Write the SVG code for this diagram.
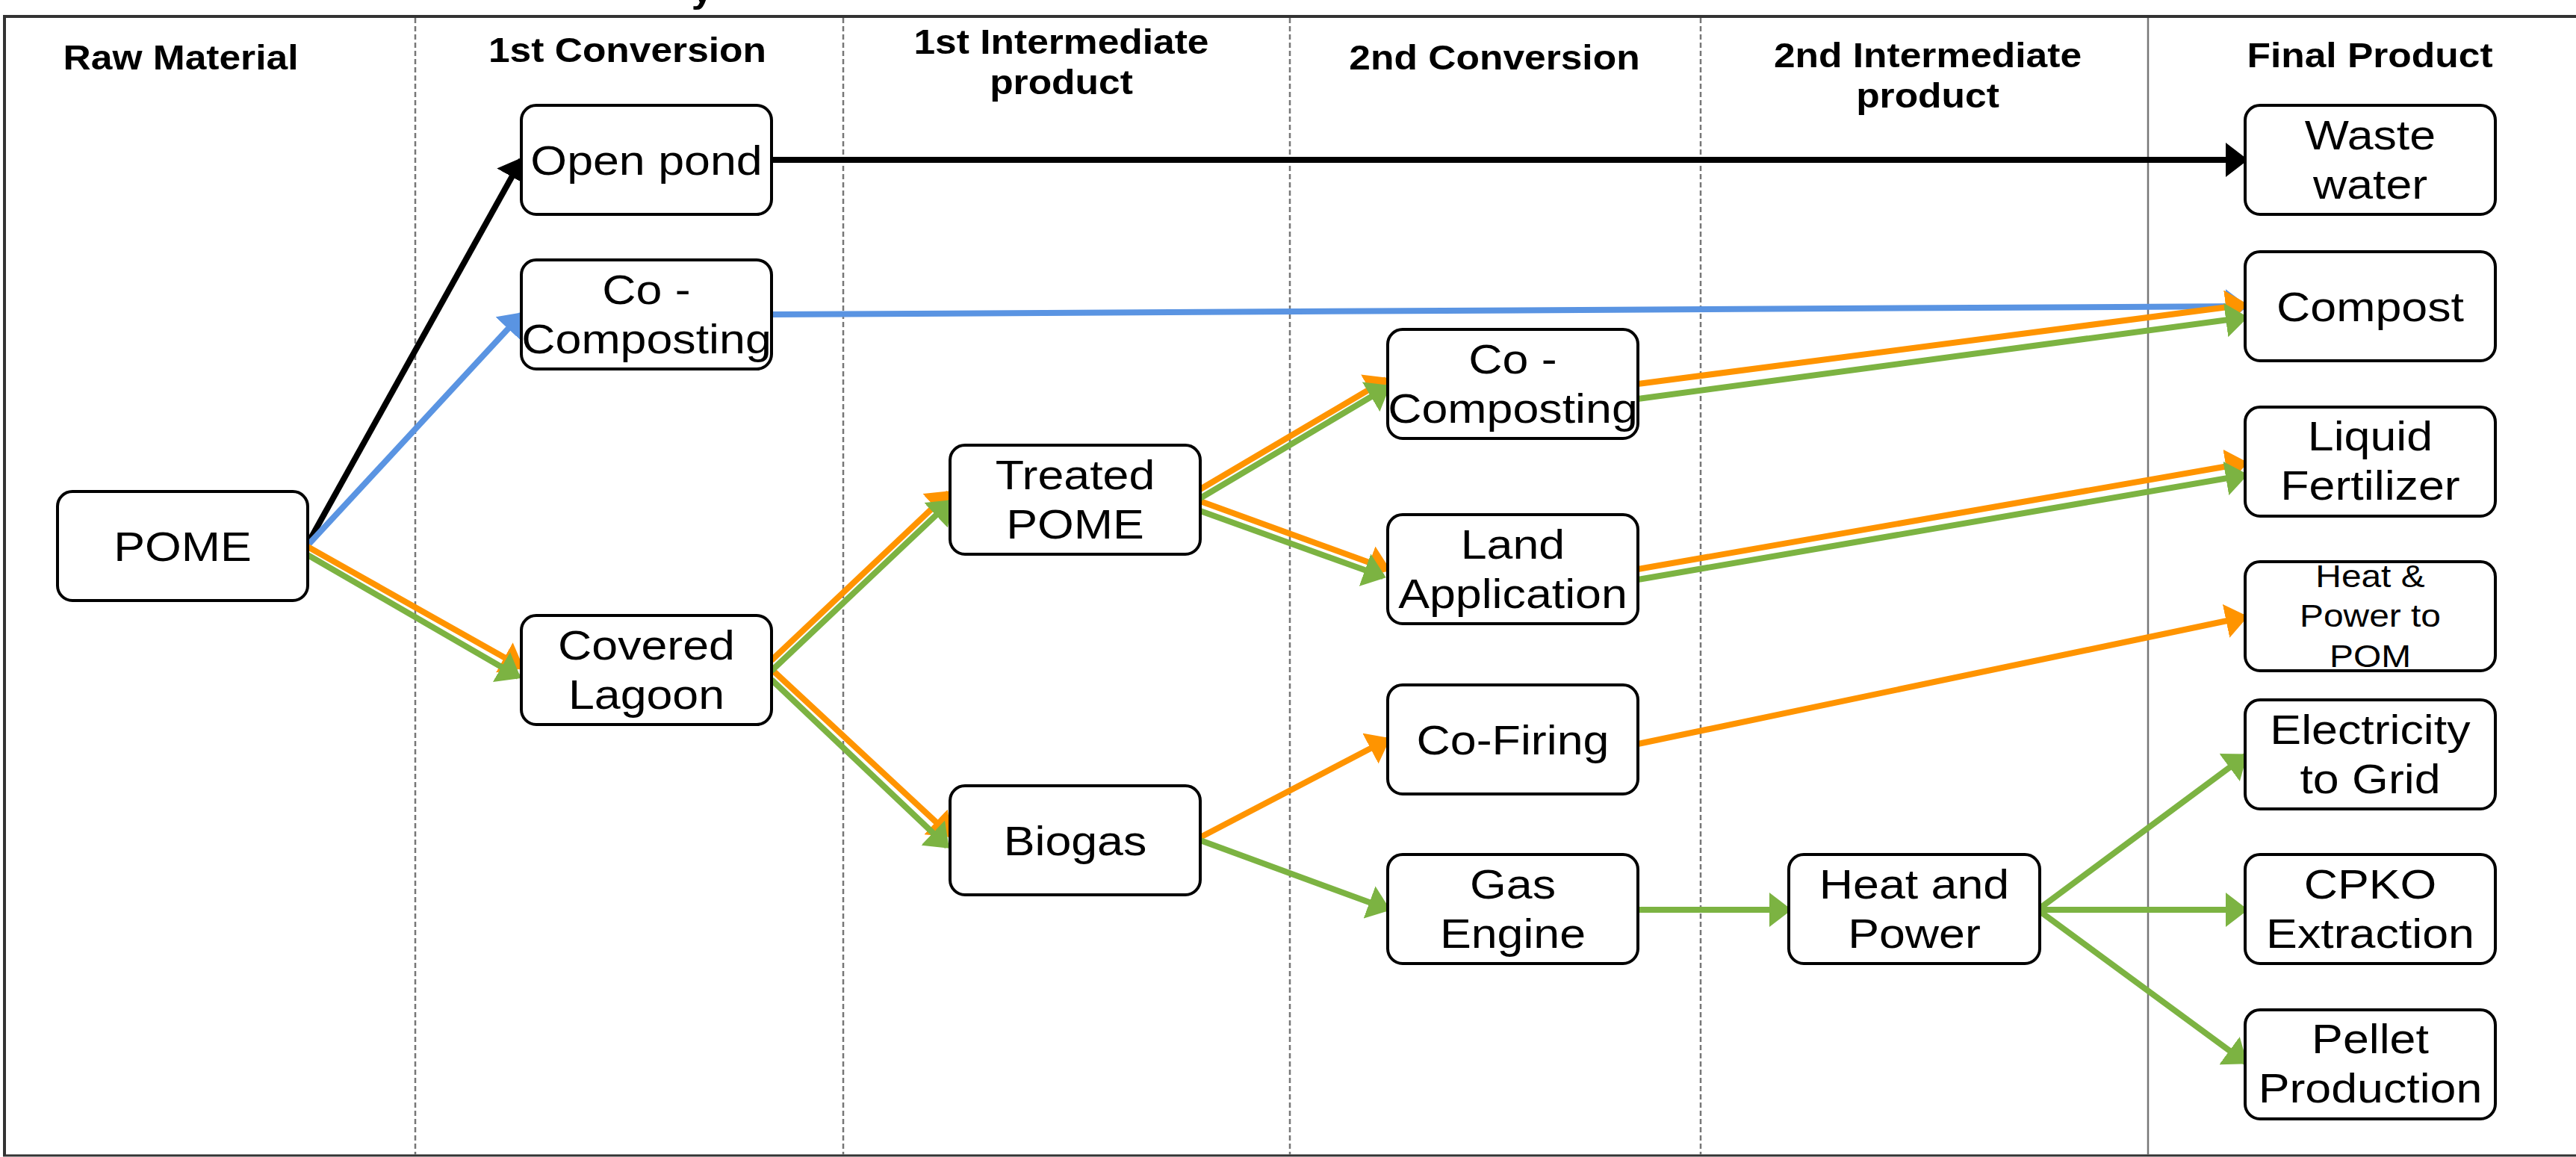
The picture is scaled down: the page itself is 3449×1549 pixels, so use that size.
<svg xmlns="http://www.w3.org/2000/svg" width="3449" height="1549" viewBox="0 0 3449 1549">
<style>
.bg{fill:#ffffff}
.node rect{fill:#ffffff;stroke:#000000;stroke-width:4}
.t{font-family:"Liberation Sans",Arial,sans-serif;font-size:55px;fill:#000000;text-anchor:middle;transform-box:fill-box;transform-origin:center;transform:scaleX(1.14)}
.ts{font-size:42px}
.h{font-family:"Liberation Sans",Arial,sans-serif;font-size:46px;font-weight:bold;fill:#000000;text-anchor:middle;transform-box:fill-box;transform-origin:center;transform:scaleX(1.12)}
.col{stroke:#777777;stroke-width:2.5;stroke-dasharray:7 4;fill:none}
.colsolid{stroke:#777777;stroke-width:2.5;fill:none}
.frame{stroke:#333333;fill:none}
.e{fill:none;stroke-width:8}
.k{stroke:#000000;marker-end:url(#ak)}
.b{stroke:#5A94E2;marker-end:url(#ab)}
.o{stroke:#FF9400;marker-end:url(#ao)}
.g{stroke:#7CB342;marker-end:url(#ag)}
</style>
<defs>
<marker id="ak" viewBox="0 0 30 46" markerWidth="30" markerHeight="46" refX="26" refY="23" orient="auto" markerUnits="userSpaceOnUse"><path d="M0,0 L30,23 L0,46 Z" fill="#000000"/></marker>
<marker id="ab" viewBox="0 0 30 46" markerWidth="30" markerHeight="46" refX="26" refY="23" orient="auto" markerUnits="userSpaceOnUse"><path d="M0,0 L30,23 L0,46 Z" fill="#5A94E2"/></marker>
<marker id="ao" viewBox="0 0 30 46" markerWidth="30" markerHeight="46" refX="26" refY="23" orient="auto" markerUnits="userSpaceOnUse"><path d="M0,0 L30,23 L0,46 Z" fill="#FF9400"/></marker>
<marker id="ag" viewBox="0 0 30 46" markerWidth="30" markerHeight="46" refX="26" refY="23" orient="auto" markerUnits="userSpaceOnUse"><path d="M0,0 L30,23 L0,46 Z" fill="#7CB342"/></marker>
</defs>
<rect class="bg" x="0" y="0" width="3449" height="1549"/>
<text class="h" x="940" y="3" font-size="70">y</text>
<g id="frame">
<line class="frame" x1="4" y1="22" x2="3449" y2="22" stroke-width="4"/>
<line class="frame" x1="6" y1="22" x2="6" y2="1547" stroke-width="4" stroke="#000000"/>
<line class="frame" x1="4" y1="1547" x2="3449" y2="1547" stroke-width="3" stroke="#888888"/>
<line class="col" x1="556" y1="24" x2="556" y2="1546"/>
<line class="col" x1="1129" y1="24" x2="1129" y2="1546"/>
<line class="col" x1="1727" y1="24" x2="1727" y2="1546"/>
<line class="col" x1="2277" y1="24" x2="2277" y2="1546"/>
<line class="colsolid" x1="2876" y1="24" x2="2876" y2="1546"/>
</g>
<g id="headers">
<text class="h" x="242" y="93">Raw Material</text>
<text class="h" x="840" y="83">1st Conversion</text>
<text class="h" x="1421" y="72">1st Intermediate</text>
<text class="h" x="1421" y="126">product</text>
<text class="h" x="2001" y="93">2nd Conversion</text>
<text class="h" x="2581" y="90">2nd Intermediate</text>
<text class="h" x="2581" y="144">product</text>
<text class="h" x="3173" y="90">Final Product</text>
</g>
<g id="connectors">
<line class="e k" stroke-width="7" x1="412" y1="728" x2="698" y2="214"/>
<line class="e k" x1="1033" y1="214" x2="3006" y2="214"/>
<line class="e b" stroke-width="7" x1="412" y1="730" x2="698" y2="421"/>
<line class="e b" x1="1033" y1="421" x2="3006" y2="410"/>
<line class="e o" x1="412" y1="732" x2="698" y2="893"/>
<line class="e o" x1="1033" y1="884" x2="1270" y2="660"/>
<line class="e o" x1="1033" y1="896" x2="1272" y2="1118"/>
<line class="e o" x1="1607" y1="655" x2="1856" y2="508"/>
<line class="e o" x1="1607" y1="671" x2="1858" y2="762"/>
<line class="e o" x1="2193" y1="514" x2="3006" y2="408"/>
<line class="e o" x1="2193" y1="762" x2="3006" y2="620"/>
<line class="e o" x1="1607" y1="1121" x2="1858" y2="990"/>
<line class="e o" x1="2193" y1="996" x2="3006" y2="826"/>
<line class="e g" x1="412" y1="743" x2="694" y2="906"/>
<line class="e g" x1="1033" y1="898" x2="1272" y2="672"/>
<line class="e g" x1="1033" y1="910" x2="1268" y2="1133"/>
<line class="e g" x1="1607" y1="667" x2="1858" y2="518"/>
<line class="e g" x1="1607" y1="684" x2="1852" y2="772"/>
<line class="e g" x1="2193" y1="534" x2="3006" y2="425"/>
<line class="e g" x1="2193" y1="776" x2="3006" y2="636"/>
<line class="e g" x1="1607" y1="1125" x2="1858" y2="1217"/>
<line class="e g" x1="2193" y1="1218" x2="2395" y2="1218"/>
<line class="e g" x1="2731" y1="1216" x2="3006" y2="1012"/>
<line class="e g" x1="2731" y1="1218" x2="3006" y2="1218"/>
<line class="e g" x1="2731" y1="1220" x2="3006" y2="1422"/>
</g>
<g id="pome" class="node"><rect x="77" y="658" width="335" height="146" rx="20"/><text class="t" x="244.5" y="751">POME</text></g>
<g id="open-pond" class="node"><rect x="698" y="141" width="335" height="146" rx="20"/><text class="t" x="865.5" y="234">Open pond</text></g>
<g id="co-composting-1" class="node"><rect x="698" y="348" width="335" height="146" rx="20"/><text class="t" x="865.5" y="407">Co -</text><text class="t" x="865.5" y="473">Composting</text></g>
<g id="covered-lagoon" class="node"><rect x="698" y="824" width="335" height="146" rx="20"/><text class="t" x="865.5" y="883">Covered</text><text class="t" x="865.5" y="949">Lagoon</text></g>
<g id="treated-pome" class="node"><rect x="1272" y="596" width="335" height="146" rx="20"/><text class="t" x="1439.5" y="655">Treated</text><text class="t" x="1439.5" y="721">POME</text></g>
<g id="biogas" class="node"><rect x="1272" y="1052" width="335" height="146" rx="20"/><text class="t" x="1439.5" y="1145">Biogas</text></g>
<g id="co-composting-2" class="node"><rect x="1858" y="441" width="335" height="146" rx="20"/><text class="t" x="2025.5" y="500">Co -</text><text class="t" x="2025.5" y="566">Composting</text></g>
<g id="land-application" class="node"><rect x="1858" y="689" width="335" height="146" rx="20"/><text class="t" x="2025.5" y="748">Land</text><text class="t" x="2025.5" y="814">Application</text></g>
<g id="co-firing" class="node"><rect x="1858" y="917" width="335" height="146" rx="20"/><text class="t" x="2025.5" y="1010">Co-Firing</text></g>
<g id="gas-engine" class="node"><rect x="1858" y="1144" width="335" height="146" rx="20"/><text class="t" x="2025.5" y="1203">Gas</text><text class="t" x="2025.5" y="1269">Engine</text></g>
<g id="heat-and-power" class="node"><rect x="2395" y="1144" width="336" height="146" rx="20"/><text class="t" x="2563" y="1203">Heat and</text><text class="t" x="2563" y="1269">Power</text></g>
<g id="waste-water" class="node"><rect x="3006" y="141" width="335" height="146" rx="20"/><text class="t" x="3173.5" y="200">Waste</text><text class="t" x="3173.5" y="266">water</text></g>
<g id="compost" class="node"><rect x="3006" y="337" width="335" height="146" rx="20"/><text class="t" x="3173.5" y="430">Compost</text></g>
<g id="liquid-fertilizer" class="node"><rect x="3006" y="545" width="335" height="146" rx="20"/><text class="t" x="3173.5" y="603">Liquid</text><text class="t" x="3173.5" y="669">Fertilizer</text></g>
<g id="heat-power-pom" class="node"><rect x="3006" y="752" width="335" height="146" rx="20"/><text class="t ts" x="3173.5" y="786">Heat &amp;</text><text class="t ts" x="3173.5" y="839">Power to</text><text class="t ts" x="3173.5" y="893">POM</text></g>
<g id="electricity-to-grid" class="node"><rect x="3006" y="937" width="335" height="146" rx="20"/><text class="t" x="3173.5" y="996">Electricity</text><text class="t" x="3173.5" y="1062">to Grid</text></g>
<g id="cpko-extraction" class="node"><rect x="3006" y="1144" width="335" height="146" rx="20"/><text class="t" x="3173.5" y="1203">CPKO</text><text class="t" x="3173.5" y="1269">Extraction</text></g>
<g id="pellet-production" class="node"><rect x="3006" y="1352" width="335" height="146" rx="20"/><text class="t" x="3173.5" y="1410">Pellet</text><text class="t" x="3173.5" y="1476">Production</text></g>
</svg>
